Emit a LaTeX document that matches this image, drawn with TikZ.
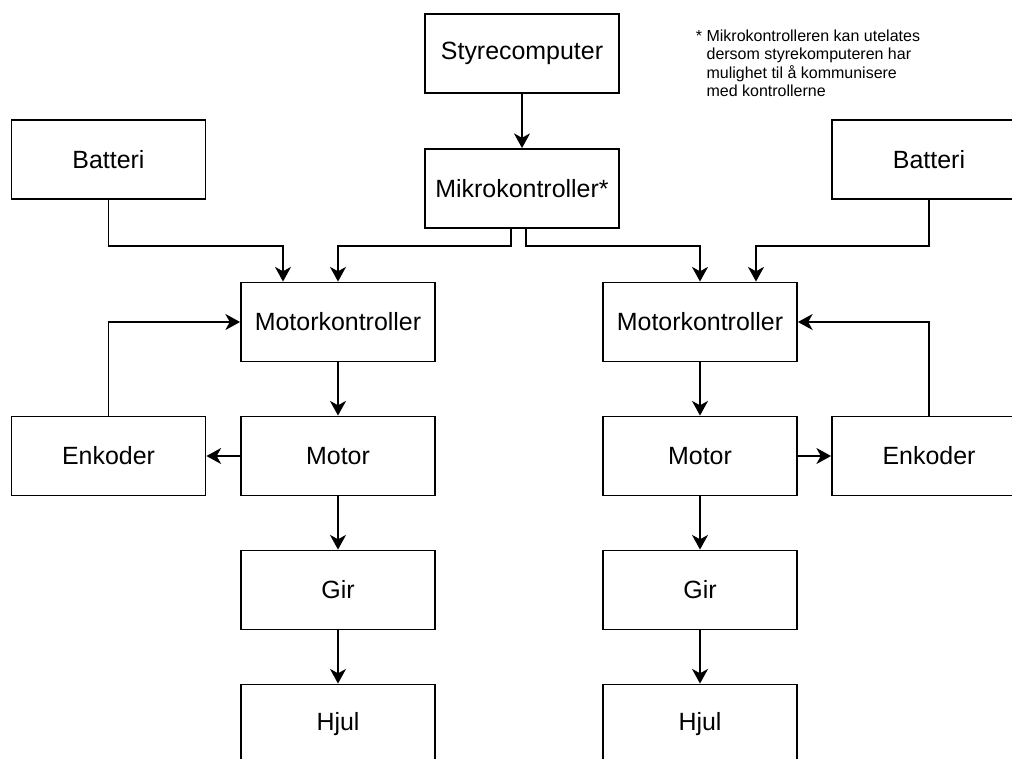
\documentclass[tikz,border=0pt]{standalone}
\usepackage{fontspec}
\setmainfont{Liberation Sans}
\usetikzlibrary{arrows.meta,positioning}

\begin{document}
\begin{tikzpicture}[x=0.75pt,y=-0.75pt,>={Stealth[length=11pt,width=12pt,inset=3.3pt]},line width=1.4pt,
  blokk/.style={draw,minimum width=145.5pt,minimum height=59.25pt,inner sep=0pt,
    font=\fontsize{18.7}{22}\selectfont}]
  \clip (0,0) rectangle (1012,758);
  \node[blokk] (styre) at (522,53.5) {Styrecomputer};
  \node[blokk] (mikro) at (522,188.5) {Mikrokontroller*};
  \node[blokk] (batL) at (108.5,159.5) {Batteri};
  \node[blokk] (batR) at (929,159.5) {Batteri};
  \node[blokk] (mkL) at (338,322) {Motorkontroller};
  \node[blokk] (mkR) at (700,322) {Motorkontroller};
  \node[blokk] (motL) at (338,456) {Motor};
  \node[blokk] (motR) at (700,456) {Motor};
  \node[blokk] (encL) at (108.5,456) {Enkoder};
  \node[blokk] (encR) at (929,456) {Enkoder};
  \node[blokk] (girL) at (338,590) {Gir};
  \node[blokk] (girR) at (700,590) {Gir};
  \node[blokk] (hjulL) at (338,724) {Hjul};
  \node[blokk] (hjulR) at (700,724) {Hjul};
  \node[anchor=north west,align=left,inner sep=0pt,font=\fontsize{12}{13.8}\selectfont] (note)
    at (695,29) {* Mikrokontrolleren kan utelates\\
    \hphantom{* }dersom styrekomputeren har\\
    \hphantom{* }mulighet til å kommunisere\\
    \hphantom{* }med kontrollerne};
  % styring
  \draw[->] (styre) -- (mikro);
  \draw[->] ([xshift=-8.25pt]mikro.south) -- ++(0,17) -| (mkL.north);
  \draw[->] ([xshift=3pt]mikro.south) -- ++(0,17) -| (mkR.north);
  \draw[->] (batL.south) -- ++(0,46) -| ([xshift=-41.25pt]mkL.north);
  \draw[->] (batR.south) -- ++(0,46) -| ([xshift=42pt]mkR.north);
  % venstre side
  \draw[->] (mkL) -- (motL);
  \draw[->] (motL) -- (girL);
  \draw[->] (girL) -- (hjulL);
  \draw[->] (motL) -- (encL);
  \draw[->] (encL.north) |- (mkL.west);
  % hoyre side
  \draw[->] (mkR) -- (motR);
  \draw[->] (motR) -- (girR);
  \draw[->] (girR) -- (hjulR);
  \draw[->] (motR) -- (encR);
  \draw[->] (encR.north) |- (mkR.east);
\end{tikzpicture}
\end{document}
